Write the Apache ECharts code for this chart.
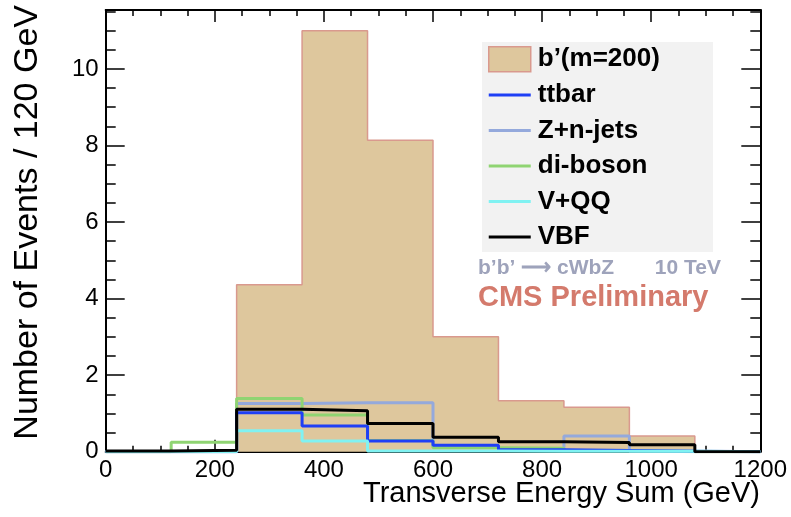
<!DOCTYPE html>
<html>
<head>
<meta charset="utf-8">
<script src="https://cdn.jsdelivr.net/npm/echarts@6/dist/echarts.min.js"></script>
<style>html,body{margin:0;padding:0;background:#fff}#c{width:791px;height:517px}</style>
</head>
<body>
<div id="c"></div>
<script>
// Bin edges (GeV), 120 GeV bins
const edges = [0,120,240,360,480,600,720,840,960,1080,1200];
// Events per bin
const bPrime  = [0,0,4.36,11.0,8.14,3.0,1.33,1.16,0.41,0];
const ttbar   = [0,0,1.02,0.67,0.28,0.17,0.05,0.03,0.01,0];
const zjets   = [0,0,1.26,1.28,1.28,0.12,0.05,0.41,0.02,0];
const diboson = [0,0.25,1.39,0.96,0.29,0.1,0.09,0.03,0,0];
const vqq     = [0,0,0.55,0.28,0.02,0.02,0.01,0.01,0.01,0];
const vbf     = [0.02,0.04,1.11,1.07,0.74,0.38,0.26,0.24,0.18,0];
const seriesNames = ['b’(m=200)','ttbar','Z+n-jets','di-boson','V+QQ','VBF'];
const xTicks = [0,200,400,600,800,1000,1200];
const yTicks = [0,2,4,6,8,10];

const FONT = '"Liberation Sans", Arial, Helvetica, sans-serif';
function histData(vals){
  const d = vals.map((v,i)=>[edges[i], v]);
  d.push([edges[edges.length-1], vals[vals.length-1]]);
  return d;
}
const xMin = xTicks[0], xMax = xTicks[xTicks.length-1];
const yMax = 11.54;
const tickLine = {color:'#000', width:1.5};
function xAx(pos, labels){
  return {type:'value', min:xMin, max:xMax, interval:200, position:pos,
    axisLine:{show:true, onZero:false, lineStyle:{color:'#000', width:2}},
    axisTick:{show:true, inside:true, length:12, lineStyle:tickLine},
    minorTick:{show:true, splitNumber:4, length:6, lineStyle:tickLine},
    splitLine:{show:false}, minorSplitLine:{show:false},
    axisLabel:{show:labels, fontSize:24, color:'#000', margin:7, fontFamily:FONT, formatter:function(v){return String(v);}}};
}
function yAx(pos, interval, len, line, labels){
  return {type:'value', min:0, max:yMax, interval:interval, position:pos,
    axisLine:{show:line, onZero:false, lineStyle:{color:'#000', width:2}},
    axisTick:{show:true, inside:true, length:len, lineStyle:tickLine},
    splitLine:{show:false},
    axisLabel:{show:labels, fontSize:24, color:'#000', margin:7, fontFamily:FONT, showMaxLabel:false, formatter:function(v){return String(v);}}};
}
const colors = ['#dec79d','#1f3ff5','#94a9dc','#8fd472','#80f2f2','#000000'];
function lineSeries(name, vals, color, z){
  return {name:name, type:'line', step:'end', symbol:'none', data:histData(vals),
    lineStyle:{color:color, width:3}, itemStyle:{color:color}, z:z, animation:false};
}
const lineIcon = 'path://M0,0H42V3H0Z';
const chart = echarts.init(document.getElementById('c'), null, {renderer:'canvas'});
chart.setOption({
  animation:false,
  grid:{left:105.7, right:30.7, top:10, bottom:65.3, containLabel:false, outerBoundsMode:'none'},
  xAxis:[xAx('bottom', true), xAx('top', false)],
  yAxis:[yAx('left',2,19,true,true), yAx('left',0.5,10,false,false), yAx('right',2,19,true,false), yAx('right',0.5,10,false,false)],
  legend:{orient:'vertical', left:488, top:46, padding:0, itemWidth:42, itemHeight:25, itemGap:9.5,
    textStyle:{fontSize:26, fontWeight:'bold', color:'#000', fontFamily:FONT, padding:[0,0,0,2]},
    data:[{name:seriesNames[0], icon:'rect', itemStyle:{color:'#dec79d', borderColor:'#d9998e', borderWidth:1.5}},
      {name:seriesNames[1], icon:lineIcon, itemStyle:{color:colors[1]}},
      {name:seriesNames[2], icon:lineIcon, itemStyle:{color:colors[2]}},
      {name:seriesNames[3], icon:lineIcon, itemStyle:{color:colors[3]}},
      {name:seriesNames[4], icon:lineIcon, itemStyle:{color:colors[4]}},
      {name:seriesNames[5], icon:lineIcon, itemStyle:{color:colors[5]}}]},
  graphic:[
    {type:'rect', shape:{x:482, y:42, width:231, height:210}, style:{fill:'#f2f2f2'}, z:-1, silent:true},
    {type:'text', x:478, y:268, style:{text:'b’b’ ⟶ cWbZ', fontSize:21, fontWeight:'bold', fontFamily:FONT, fill:'#9ea3bb', align:'left', verticalAlign:'middle'}},
    {type:'text', x:721, y:268, style:{text:'10 TeV', fontSize:21, fontWeight:'bold', fontFamily:FONT, fill:'#9ea3bb', align:'right', verticalAlign:'middle'}},
    {type:'text', x:478, y:298, style:{text:'CMS Preliminary', fontSize:29, fontWeight:'bold', fontFamily:FONT, fill:'#d47a6c', align:'left', verticalAlign:'middle'}},
    {type:'text', x:760, y:494, style:{text:'Transverse Energy Sum (GeV)', fontSize:29, fontFamily:FONT, fill:'#000', align:'right', verticalAlign:'middle'}},
    {type:'text', x:28, y:5, rotation:Math.PI/2, style:{text:'Number of Events / 120 GeV', fontSize:34, fontFamily:FONT, fill:'#000', align:'right', verticalAlign:'middle'}}
  ],
  series:[
    {name:seriesNames[0], type:'line', step:'end', symbol:'none', data:histData(bPrime),
      lineStyle:{color:'#d9998e', width:1.5}, itemStyle:{color:'#dec79d'},
      areaStyle:{color:'#dec79d', opacity:1}, z:1, animation:false},
    lineSeries(seriesNames[2], zjets, colors[2], 3),
    lineSeries(seriesNames[3], diboson, colors[3], 4),
    lineSeries(seriesNames[1], ttbar, colors[1], 5),
    lineSeries(seriesNames[4], vqq, colors[4], 6),
    lineSeries(seriesNames[5], vbf, colors[5], 7)
  ]
});
</script>
</body>
</html>
